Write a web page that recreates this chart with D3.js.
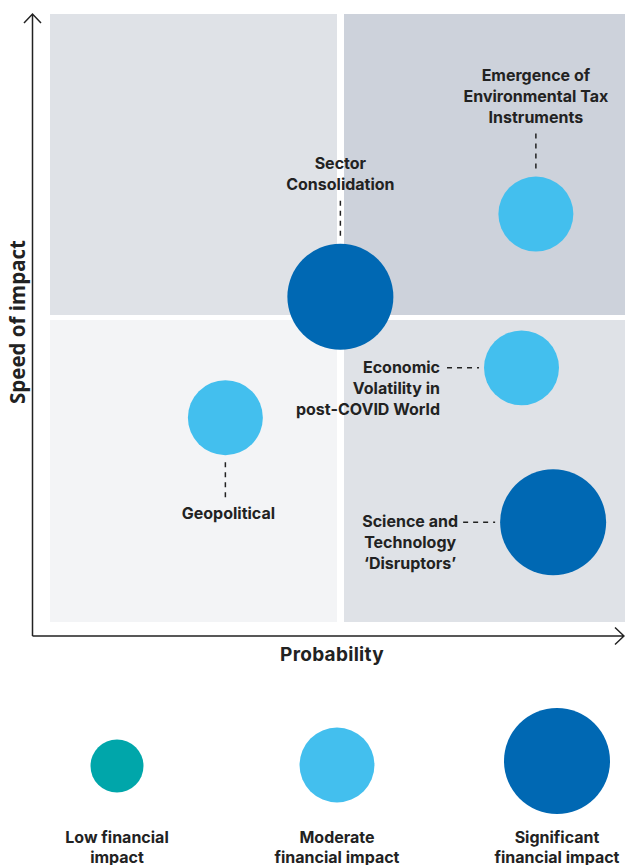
<!DOCTYPE html>
<html><head><meta charset="utf-8">
<script src="https://cdn.jsdelivr.net/npm/d3@7"></script>
<style>
html,body{margin:0;padding:0;background:#fff;}
svg{display:block;font-family:Inter,"Open Sans",sans-serif;}
</style></head>
<body><svg id="c" width="625" height="865"></svg>
<script>
// ---- data ----
const risks = ["Sector Consolidation","Emergence of Environmental Tax Instruments","Economic Volatility in post-COVID World","Geopolitical","Science and Technology ‘Disruptors’"];
const probability = [5.05, 8.45, 8.2, 3.05, 8.75];
const speed = [5.35, 6.71, 4.18, 3.36, 1.64];
const impact = [4, 2, 2, 2, 4];
const labelLines = [["Sector","Consolidation"],["Emergence of","Environmental Tax","Instruments"],["Economic","Volatility in","post-COVID World"],["Geopolitical"],["Science and","Technology","‘Disruptors’"]];
const labelSide = ["top","top","left","bottom","left"];
const legendValues = [1, 2, 4];
const legendLabels = [["Low financial","impact"],["Moderate","financial impact"],["Significant","financial impact"]];
const impactColors = {1:"#00a6aa", 2:"#43bfee", 4:"#0068b3"};

const svg = d3.select("#c");
const x = d3.scaleLinear().domain([0,10]).range([50,625]);
const y = d3.scaleLinear().domain([0,10]).range([622,14]);
const r = d3.scaleSqrt().domain([0,1]).range([0,26.5]);
const ink = "#222";

// quadrants
const quads = [
  {x0:0,x1:5,y0:5,y1:10,fill:"#dfe2e7"},
  {x0:5,x1:10,y0:5,y1:10,fill:"#cdd2db"},
  {x0:0,x1:5,y0:0,y1:5,fill:"#f3f4f6"},
  {x0:5,x1:10,y0:0,y1:5,fill:"#dfe2e7"}
];
const xl = v => v===5 ? x(5)+6.5 : x(v);   // left edge
const xr = v => v===5 ? x(5)-0.5 : x(v);   // right edge
const yt = v => v===5 ? y(5)+2 : y(v);     // top edge
const yb = v => v===5 ? y(5)-3 : y(v);     // bottom edge
svg.append("g").selectAll("rect").data(quads).join("rect")
  .attr("x", d => xl(d.x0))
  .attr("width", d => xr(d.x1) - xl(d.x0))
  .attr("y", d => yt(d.y1))
  .attr("height", d => yb(d.y0) - yt(d.y1))
  .attr("fill", d => d.fill);

// axes
const ax = svg.append("g").attr("stroke", ink).attr("stroke-width", 1.5).attr("fill","none");
ax.append("path").attr("d", "M32.5,636 L32.5,14 M24,23 L32.5,14 L41,23");
ax.append("path").attr("d", "M32.5,636 L624,636 M615,627.5 L624,636 L615,644.5");

svg.append("text").attr("x",332).attr("y",661).attr("text-anchor","middle")
  .attr("font-size",19).attr("font-weight",700).attr("letter-spacing",0.3).attr("fill",ink).text("Probability");
svg.append("text").attr("transform","translate(25,322) rotate(-90)").attr("text-anchor","middle")
  .attr("font-family","'Open Sans',sans-serif")
  .attr("font-size",20.5).attr("font-weight",700).attr("fill",ink).text("Speed of impact");

// bubbles
const data = risks.map((n,i)=>({name:n, px:probability[i], sp:speed[i], imp:impact[i], lines:labelLines[i], side:labelSide[i]}));
svg.append("g").selectAll("circle").data(data).join("circle")
  .attr("cx", d=>x(d.px)).attr("cy", d=>y(d.sp)).attr("r", d=>r(d.imp))
  .attr("fill", d=>impactColors[d.imp]);

// labels + leaders
const lh = 21, fs = 16;
const lg = svg.append("g");
data.forEach(d=>{
  const cx = x(d.px), cy = y(d.sp), rr = r(d.imp);
  const n = d.lines.length;
  let tx, ty, anchor, l;
  if (d.side==="top"){
    const lineEnd = cy - rr - 5, lineStart = lineEnd - 38;
    l = [cx, lineStart, cx, lineEnd];
    tx = cx; anchor="middle"; ty = lineStart - 11 - (n-1)*lh;
  } else if (d.side==="bottom"){
    const lineStart = cy + rr + 7, lineEnd = lineStart + 38;
    l = [cx, lineStart, cx, lineEnd];
    tx = cx + 3; anchor="middle"; ty = lineEnd + 19;
  } else {
    const lineEnd = cx - rr - 5, lineStart = lineEnd - 32;
    l = [lineStart, cy, lineEnd, cy];
    if (d.name.startsWith("Economic")) { tx = lineStart - 7; anchor="end"; }
    else { tx = lineStart - 53; anchor="middle"; }
    ty = cy + 5;
  }
  lg.append("line").attr("x1",l[0]).attr("y1",l[1]).attr("x2",l[2]).attr("y2",l[3])
    .attr("stroke",ink).attr("stroke-width",1.5).attr("stroke-dasharray","5,5");
  const t = lg.append("text").attr("text-anchor",anchor).attr("font-size",fs)
    .attr("font-weight",700).attr("fill",ink);
  d.lines.forEach((s,i)=>t.append("tspan").attr("x",tx).attr("y",ty+i*lh).text(s));
});

// legend
const legX = d3.scalePoint().domain(legendValues).range([117,557]);
const legCy = {1:766, 2:765, 4:761};
const leg = svg.append("g");
leg.selectAll("circle").data(legendValues).join("circle")
  .attr("cx", d=>legX(d)).attr("cy", d=>legCy[d]).attr("r", d=>r(d)).attr("fill", d=>impactColors[d]);
legendValues.forEach((v,i)=>{
  const t = leg.append("text").attr("text-anchor","middle").attr("font-size",fs)
    .attr("font-weight",700).attr("fill",ink);
  legendLabels[i].forEach((s,j)=>t.append("tspan").attr("x",legX(v)).attr("y",843+j*20).text(s));
});
</script></body></html>
